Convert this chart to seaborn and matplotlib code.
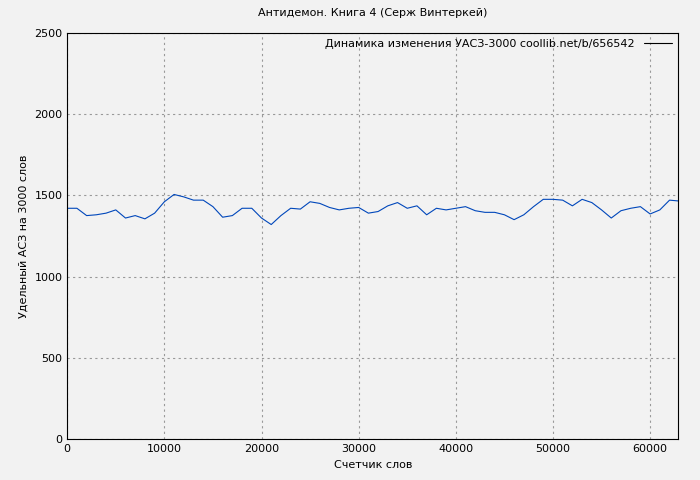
import matplotlib
matplotlib.use("Agg")
import matplotlib.pyplot as plt
import seaborn as sns
import pandas as pd

words = [i*1000 for i in range(63)] + [62900]
values = [1420,1420,1375,1380,1390,1410,1360,1375,1355,1390,1460,1505,1490,1470,1470,1430,1365,1375,1420,1420,
          1360,1320,1375,1420,1415,1460,1450,1425,1410,1420,1425,1390,1400,1435,1455,1420,1435,1380,1420,1410,
          1420,1430,1405,1395,1395,1380,1350,1380,1430,1475,1475,1470,1435,1475,1455,1410,1360,1405,1420,1430,
          1385,1410,1470,1465]
label = "Динамика изменения УАСЗ-3000 coollib.net/b/656542"

sns.set_style("white")
plt.rcParams['font.family'] = ['DejaVu Sans']
plt.rcParams['text.color'] = 'black'
df = pd.DataFrame({"x": words, "y": values})
fig = plt.figure(figsize=(7, 4.8), dpi=100, facecolor="#f2f2f2")
ax = fig.add_axes([0.096, 0.085, 0.873, 0.847])
ax.set_facecolor("#f2f2f2")
sns.lineplot(data=df, x="x", y="y", ax=ax, color="#0047bb", linewidth=0.8, label=label)
ax.set_xlim(0, 62900)
ax.set_ylim(0, 2500)
ax.set_xticks(range(0, 62000, 10000))
ax.set_yticks(range(0, 2501, 500))
ax.grid(True, color="#999999", linestyle=(0, (2, 3)), linewidth=0.8)
for s in ax.spines.values():
    s.set_color("black")
ax.tick_params(labelsize=8, length=3, direction="in", colors="black")
ax.set_xlabel("Счетчик слов", fontsize=8, color="black")
ax.set_ylabel("Удельный АСЗ на 3000 слов", fontsize=8, color="black")
ax.set_title("Антидемон. Книга 4 (Серж Винтеркей)", fontsize=8, pad=12, color="black")
leg = ax.legend(loc="upper right", frameon=False, fontsize=8, markerfirst=False, handlelength=2.5,
                borderaxespad=0.2)
for h in leg.get_lines():
    h.set_color("black")
fig.savefig("out.png", dpi=100, facecolor=fig.get_facecolor())
